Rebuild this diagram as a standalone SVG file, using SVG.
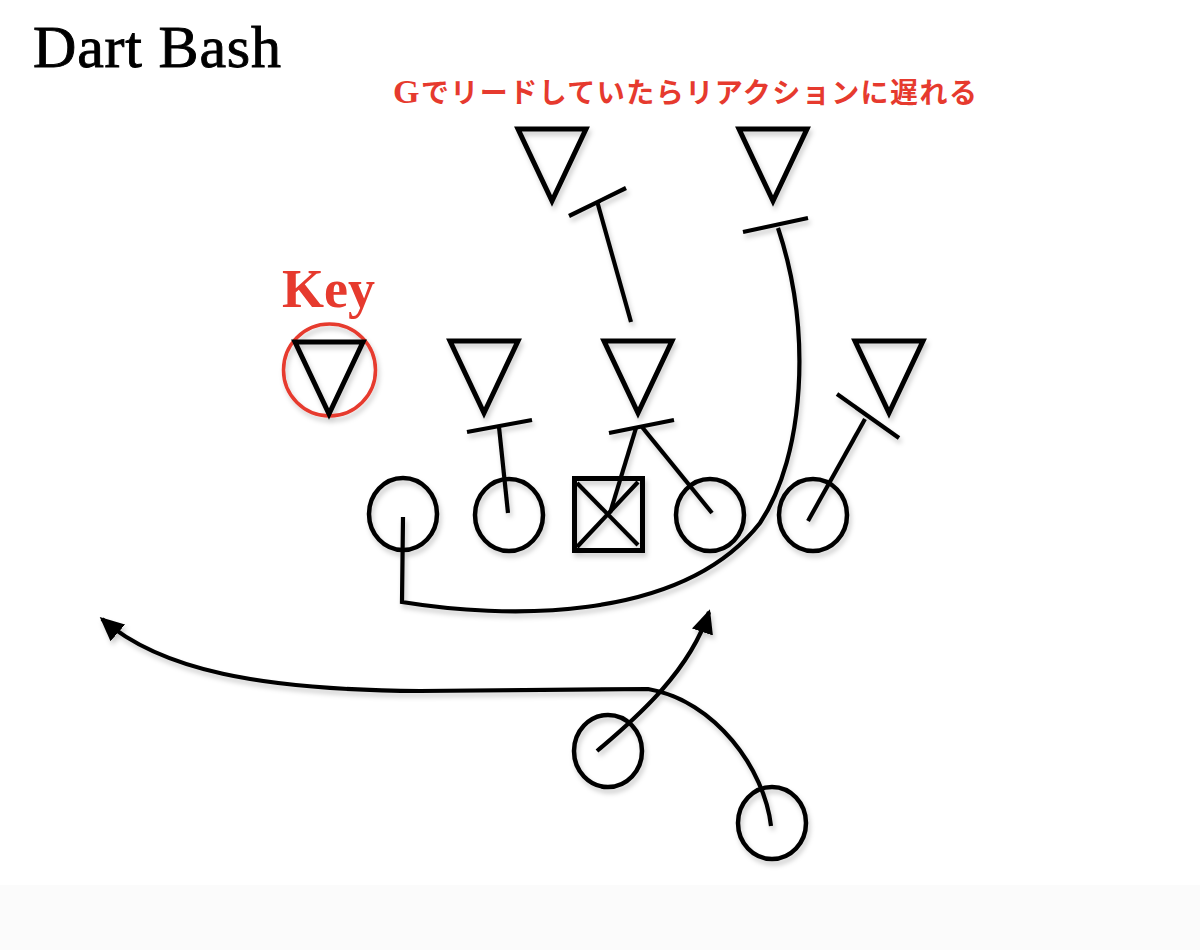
<svg xmlns="http://www.w3.org/2000/svg" width="1200" height="950" viewBox="0 0 1200 950">
<defs>
<filter id="sh" x="-20%" y="-20%" width="140%" height="140%">
<feDropShadow dx="2" dy="4" stdDeviation="2.5" flood-color="#000" flood-opacity="0.2"/>
</filter>
<marker id="ah" markerUnits="userSpaceOnUse" markerWidth="26" markerHeight="24" refX="21" refY="12" orient="auto">
<path d="M0,1 L24,12 L0,23 Z" fill="#000"/>
</marker>
<polygon id="tri" points="-34,0 34,0 0,72" fill="none" stroke="#000" stroke-width="5" stroke-linejoin="miter"/>
</defs>
<style>
.o{fill:none;stroke:#000;stroke-width:4.5}
.ln{fill:none;stroke:#000;stroke-width:4.2;stroke-linecap:butt}
.ttl{font-family:"Liberation Serif","Noto Sans CJK JP",serif;fill:#000}
.red{fill:#e63a2e}
</style>
<rect x="0" y="0" width="1200" height="950" fill="#fff"/>
<rect x="0" y="885" width="1200" height="65" fill="#fbfbfb"/>

<g id="title"><text class="ttl" x="33" y="67" font-size="60" textLength="248" stroke="#000" stroke-width="0.9">Dart Bash</text></g>
<g id="note"><text class="ttl red" x="393" y="103" font-size="28" font-weight="bold" textLength="584"><tspan font-size="34">G</tspan>でリードしていたらリアクションに遅れる</text></g>
<g id="key-label"><text class="ttl red" x="282" y="307" font-size="54" font-weight="bold">Key</text></g>

<g filter="url(#sh)">
<g id="key-circle"><circle cx="329.5" cy="370" r="46" fill="none" stroke="#e63a2e" stroke-width="3.5"/></g>
<g id="d-key"><use href="#tri" x="329" y="342"/></g>
<g id="d-lb1"><use href="#tri" x="484" y="341"/></g>
<g id="d-lb2"><use href="#tri" x="638" y="341"/></g>
<g id="d-lb3"><use href="#tri" x="889" y="341"/></g>
<g id="d-s1"><use href="#tri" x="552" y="129"/></g>
<g id="d-s2"><use href="#tri" x="773" y="129"/></g>

<g id="o-lt"><ellipse class="o" cx="403" cy="514" rx="34" ry="36"/></g>
<g id="o-lg"><ellipse class="o" cx="509" cy="515" rx="34" ry="36"/></g>
<g id="o-c">
<rect x="574.5" y="478.5" width="68" height="72" fill="none" stroke="#000" stroke-width="5"/>
<line class="ln" x1="577" y1="483" x2="638" y2="545" stroke-width="3.5"/>
<line class="ln" x1="577" y1="547" x2="638" y2="482" stroke-width="3.5"/>
</g>
<g id="o-rg"><ellipse class="o" cx="710" cy="515" rx="34" ry="36"/></g>
<g id="o-rt"><ellipse class="o" cx="813" cy="515" rx="34" ry="36"/></g>
<g id="o-qb"><ellipse class="o" cx="608" cy="751" rx="34" ry="36"/></g>
<g id="o-rb"><ellipse class="o" cx="772" cy="823" rx="34" ry="36"/></g>

<g id="connectors">
<line class="ln" x1="508" y1="513" x2="499" y2="427"/>
<line class="ln" x1="467" y1="432" x2="532" y2="420"/>
<line class="ln" x1="610" y1="513" x2="636" y2="428"/>
<line class="ln" x1="712" y1="513" x2="642" y2="427"/>
<line class="ln" x1="609" y1="433" x2="674" y2="420"/>
<line class="ln" x1="808" y1="521" x2="865" y2="419"/>
<line class="ln" x1="837" y1="394" x2="899" y2="438"/>
<line class="ln" x1="631" y1="322" x2="597" y2="201"/>
<line class="ln" x1="569" y1="216" x2="626" y2="188"/>
<path class="ln" d="M403,517 L402,602 C500,618 680,625 760,523 C805,455 812,330 778,228"/>
<line class="ln" x1="743" y1="232" x2="808" y2="218"/>
<path class="ln" d="M597,751 C640,715 690,670 709,612" marker-end="url(#ah)"/>
<path class="ln" d="M771,826 C765,770 715,700 648,689 L420,691 C260,690 160,670 102,619" marker-end="url(#ah)"/>
</g>
</g>
</svg>
